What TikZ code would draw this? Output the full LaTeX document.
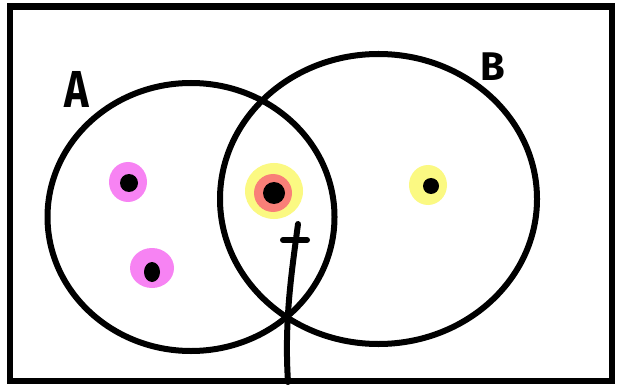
\documentclass[tikz,border=0pt]{standalone}
\usetikzlibrary{shapes.geometric}
\usepackage{fontspec}
\setmainfont{Fira Sans}
\definecolor{pinkhl}{HTML}{F783F3}
\definecolor{yellowhl}{HTML}{FBF982}
\definecolor{salmonhl}{HTML}{F97F78}
\tikzset{
  ink/.style={line width=6pt, draw=black},
  setcircle/.style={ink, ellipse, inner sep=0pt},
  lbl/.style={font=\bfseries\fontsize{52}{52}\selectfont, inner sep=0pt}
}
\begin{document}
\begin{tikzpicture}[x=1pt,y=-1pt]
\useasboundingbox (0,0) rectangle (617,387);
\fill[white] (0,0) rectangle (617,387);
% frame
\draw[line width=6.5pt] (10,6.5) rectangle (612,381);
% highlights
\fill[pinkhl] (128,182) circle [x radius=19, y radius=20];
\fill[pinkhl] (152,268) circle [x radius=22, y radius=20];
\fill[yellowhl] (274,191) circle [x radius=29, y radius=28];
\fill[salmonhl] (273,193) circle [radius=19];
\fill[yellowhl] (428,185) circle [x radius=19, y radius=20];
% set circles
\node[setcircle, minimum width=287pt, minimum height=268pt] (A) at (191,217) {};
\node[setcircle, minimum width=317pt, minimum height=290pt] (B) at (378.5,199) {};
% dots
\fill (129,183) circle [radius=9];
\fill (152,272) ellipse [x radius=8, y radius=10];
\fill (274,193) circle [radius=11];
\fill (431,186) circle [radius=8];
% labels
\node[lbl, xscale=0.8] (la) at (77,89) {A};
\node[lbl, font=\bfseries\fontsize{40}{40}\selectfont] (lb) at (493,67) {B};
% arrow
\coordinate (tail) at (288,382);
\coordinate (tip) at (298,224);
\draw[ink, line cap=round] (tail) .. controls (284,320) and (292,270) .. (tip);
\coordinate (barl) at (283,240);
\coordinate (barr) at (307,240);
\draw[ink, line cap=round] (barl) -- (barr);
\end{tikzpicture}
\end{document}
